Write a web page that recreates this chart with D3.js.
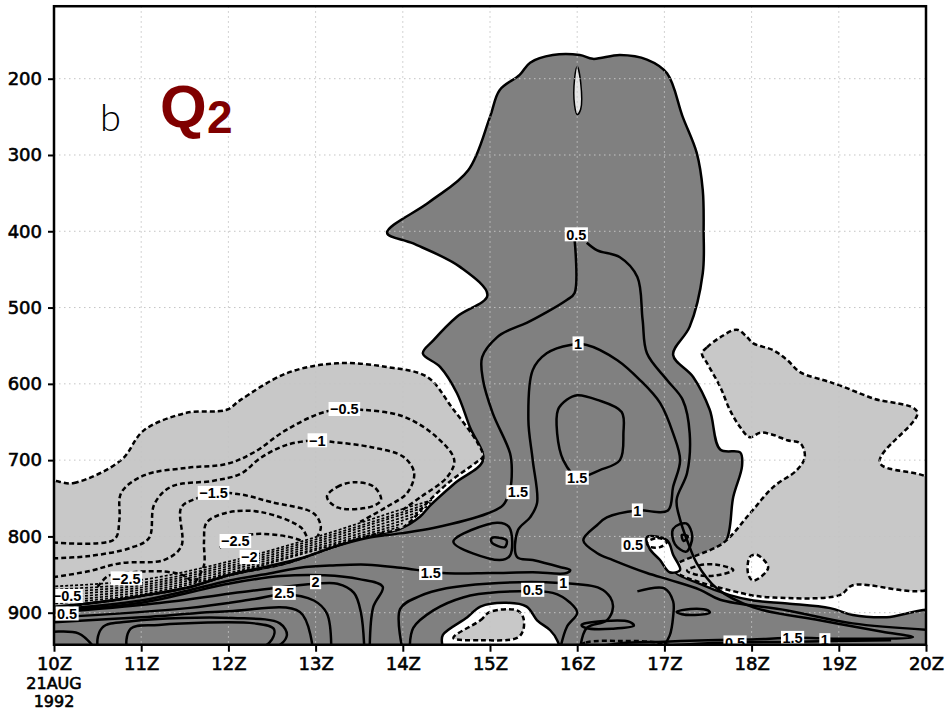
<!DOCTYPE html>
<html>
<head>
<meta charset="utf-8">
<script src="https://cdnjs.cloudflare.com/ajax/libs/d3/7.8.5/d3.min.js"></script>
<style>
body { margin: 0; background: #fff; }
</style>
</head>
<body>
<svg width="950" height="712"></svg>
<script>
// ################################### Data #######################################
// all points are [hour (Z), pressure (hPa)]

var hours = [10, 11, 12, 13, 14, 15, 16, 17, 18, 19, 20];
var hourLabels = ["10Z", "11Z", "12Z", "13Z", "14Z", "15Z", "16Z", "17Z", "18Z", "19Z", "20Z"];
var dateLines = ["21AUG", "1992"];
var pressureTicks = [200, 300, 400, 500, 600, 700, 800, 900];
var pTop = 105, pBottom = 942;

// shaded areas
var darkArea = [[9.9,960],[9.9,893],[10.38,888],[11.0,878],[11.53,867],[12.0,851],[12.67,835],[13.2,814],[13.59,800],
    [13.97,790],[14.2,774],[14.31,760],[14.6,730],[14.92,700],[14.77,657],[14.62,612],[14.43,578],[14.23,560],
    [14.35,543],[14.62,512],[14.97,484],[14.66,447],[14.12,416],[13.82,402],[14.3,362],[14.75,320],[15.0,250],
    [15.11,215],[15.34,195],[15.46,179],[15.72,169],[16.03,169],[16.18,174],[16.49,169],[16.80,175],[17.03,193],
    [17.21,250],[17.37,297],[17.44,346],[17.45,400],[17.44,455],[17.29,525],[17.10,562],[17.33,591],[17.52,634],
    [17.64,686],[17.87,690],[17.89,708],[17.79,748],[17.70,808],[17.45,828],[17.12,845],[17.4,862],[17.75,877],
    [18.02,884],[18.41,888],[18.90,894],[19.16,903],[19.55,906],[20.1,899],[20.1,960]];
var lightLeft = [[9.9,730],[10.23,730],[10.77,700],[11.03,661],[11.52,638],[11.98,634],[12.14,621],[12.67,586],
    [13.25,573],[13.82,578],[14.28,591],[14.57,632],[14.86,678],[14.92,695],[14.84,703],[14.52,730],[14.27,757],
    [14.1,779],[13.97,790],[13.59,800],[13.2,814],[12.67,835],[12.0,851],[11.53,867],[11.0,878],[10.38,888],[9.9,892]];
var lightRight = [[17.43,560],[17.49,552],[17.64,539],[17.83,529],[17.95,539],[18.02,547],[18.25,556],[18.41,569],
    [18.56,585],[18.82,595],[19.01,602],[19.39,619],[19.90,637],[19.47,703],[20.1,730],[20.1,865],[19.16,864],
    [19.01,877],[18.25,880],[17.87,874],[17.10,842],[17.67,809],[17.98,770],[18.25,735],[18.52,713],[18.61,696],
    [18.56,678],[18.41,674],[18.25,667],[18.10,664],[17.98,670],[17.87,657],[17.75,634],[17.64,604],[17.49,573]];
var whiteTriangle = [[17.98,827],[18.06,824],[18.19,841],[18.02,858],[17.96,849]];
var whitePocket = [[16.8,801],[17.03,805],[17.1,824],[17.18,844],[17.06,847],[16.95,831],[16.83,816]];
var whitePatch = [[14.46,929],[14.74,906],[14.89,892],[15.19,887],[15.42,892],[15.54,910],[15.69,923],[15.77,936],
    [15.8,955],[14.5,955],[14.45,940]];
var lightPatch = [[14.58,933],[14.89,910],[15.0,899],[15.31,897],[15.38,906],[15.38,923],[15.31,933],[14.89,936]];
var topSliver = [[16.0,184],[16.04,205],[16.04,240],[16.0,247],[15.97,235],[15.97,200]];

// solid (positive) contours, open
var pos05a = [[15.97,411],[15.97,481],[15.88,490],[15.42,520],[15.23,529],[15.08,539],[14.91,565],[14.92,595],
    [15.03,638],[15.23,691],[15.25,713],[15.23,739],[15.15,759],[14.97,770],[14.35,789],[13.97,796],[13.59,802],
    [13.2,814],[12.82,829],[12.0,851],[11.53,867],[11.0,878],[10.38,888],[9.9,893]];
var pos05b = [[16.11,415],[16.23,425],[16.49,434],[16.69,460],[16.75,516],[16.80,560],[17.03,595],[17.21,621],
    [17.29,665],[17.26,717],[17.14,752],[17.18,778],[17.29,814],[17.37,835],[17.6,868],[18.02,893],[18.78,910],
    [19.5,925],[19.85,932],[19.0,934],[18.5,933],[18.0,935],[17.5,936],[17.0,938],[16.5,940],[16.2,945]];
var pos1 = [[9.9,897],[10.5,891],[11.0,884],[11.5,872],[12.0,858],[12.5,848],[12.82,841],[13.2,838],[13.59,837],
    [13.97,841],[14.46,848],[15.0,848],[15.49,847],[15.88,848],[15.92,844],[15.80,840],[15.49,831],[15.31,827],
    [15.32,792],[15.46,775],[15.54,756],[15.49,700],[15.44,647],[15.49,582],[15.65,560],[15.92,549],[16.11,549],
    [16.46,569],[16.72,595],[16.95,625],[17.10,665],[17.18,700],[17.10,735],[17.04,766],[16.69,766],[16.34,775],
    [16.23,785],[16.07,805],[16.23,822],[16.41,831],[16.80,848],[17.06,857],[17.41,870],[17.64,883],[18.41,897],
    [19.16,914],[20.1,923]];
var pos15 = [[9.9,898],[11.0,887],[12.0,862],[12.6,852],[13.1,851],[13.5,856],[13.77,866],[13.66,893],[13.62,950]];
var pos2 = [[9.9,901],[11.15,888],[12.29,871],[13.0,862],[13.25,862],[13.44,874],[13.52,900],[13.56,950]];
var pos25 = [[9.9,907],[11.53,894],[12.3,882],[12.64,876],[12.98,884],[13.13,901],[13.18,950]];
var pos3 = [[9.9,913],[11.0,906],[12.0,898],[12.82,899],[12.97,950]];
var posEdge = [[9.9,926],[10.28,927],[10.49,950]];
var lower1 = [[14.0,950],[13.97,895],[14.2,878],[14.5,868],[15.1,861],[15.8,861],[16.26,868],[16.38,880],
    [16.41,893],[16.34,910],[16.11,920],[16.03,950]];
var lower05 = [[14.08,950],[14.12,920],[14.35,897],[14.69,880],[15.1,873],[15.72,874],[15.92,887],[16.0,900],
    [15.88,919],[15.8,950]];
var right05 = [[16.69,872],[17.0,868],[17.1,885],[17.1,905],[17.06,930],[16.95,950]];
var bottom1 = [[19.6,936],[18.5,938],[17.5,940],[16.8,945]];

// solid closed loops
var loopOuter = [[10.53,950],[10.55,920],[10.91,911],[12.05,907],[12.59,914],[12.67,930],[12.47,950]];
var loopInner = [[10.86,950],[10.88,921],[11.2,916],[12.3,914],[12.52,921],[12.5,935],[12.3,950]];
var loop15 = [[16.0,615],[16.23,621],[16.51,637],[16.53,665],[16.49,700],[16.26,713],[16.0,722],[15.84,700],
    [15.77,665],[15.78,634],[15.88,621]];
var loopTri = [[14.58,807],[15.08,782],[15.22,788],[15.23,825],[15.11,831]];
var loopTriIn = [[15.02,802],[15.19,805],[15.17,814],[15.02,808]];
var loopE1 = [[16.05,916],[16.3,911],[16.6,912],[16.65,917],[16.4,921],[16.1,920]];
var loopE2 = [[17.14,899],[17.3,895],[17.5,897],[17.52,900],[17.35,903],[17.2,902]];
var loopR = [[17.1,790],[17.25,783],[17.32,800],[17.25,820],[17.12,810]];
var loopRIn = [[17.2,798],[17.27,800],[17.22,806]];

// dashed (negative) contours
var neg05 = [[9.9,807],[10.69,804],[10.75,778],[10.77,743],[11.03,720],[11.53,710],[11.98,705],[12.29,690],
    [12.67,660],[13.13,636],[13.52,634],[14.01,643],[14.39,670],[14.59,700],[14.51,722],[14.21,748],[14.0,765]];
var neg1 = [[9.9,829],[10.38,826],[10.88,815],[11.09,802],[11.15,758],[11.34,735],[11.83,727],[12.14,718],
    [12.37,697],[12.67,680],[13.02,674],[13.18,676],[13.64,683],[14.01,696],[14.13,717],[14.05,743],[13.82,761],
    [13.51,781]];
var neg15 = [[9.9,855],[10.38,846],[10.77,835],[11.26,831],[11.46,813],[11.46,762],[11.64,750],[11.83,743],
    [12.14,745],[12.49,755],[12.98,770],[13.06,788],[13.02,800]];
var neg2 = [[11.62,860],[11.72,838],[11.72,807],[11.75,782],[11.98,769],[12.37,768],[12.83,788],[12.9,801]];
var neg25a = [[10.5,866],[10.62,852],[10.8,848],[11.26,846],[11.5,852],[11.58,860]];
var neg25b = [[11.9,815],[12.0,806],[12.29,797],[12.67,800],[12.85,806]];
var negLoop = [[13.13,748],[13.25,735],[13.44,729],[13.67,735],[13.75,752],[13.64,761],[13.25,762]];
var negEllipse = [[17.26,845],[17.4,838],[17.6,837],[17.79,844],[17.6,851],[17.4,851]];
var negPocket = [[16.8,808],[16.92,802],[17.03,807],[16.95,814],[16.82,813]];
var negBottom = [[15.95,948],[16.1,939],[16.5,937],[16.9,939],[17.2,948]];

// crowded dashed contours along the front
var dense1 = [[9.9,866],[11.0,857],[12.0,833],[13.0,801],[14.0,764],[14.35,752]];
var dense2 = [[9.9,870],[11.0,861],[12.0,836],[13.0,804],[14.0,768],[14.32,756]];
var dense3 = [[9.9,874],[11.0,864],[12.0,839],[13.0,807],[14.0,771],[14.28,761]];
var dense4 = [[9.9,878],[11.0,867],[12.0,842],[13.0,810],[14.0,775],[14.24,766]];
var dense5 = [[9.9,882],[11.0,870],[12.0,845],[13.0,813],[14.0,779],[14.2,771]];
var dense6 = [[9.9,886],[11.0,873],[12.0,848],[13.0,816],[14.0,783]];
var dense7 = [[9.9,889],[11.0,876],[12.0,850],[13.0,818],[13.95,788]];

// contour labels [text, hour, pressure]
var contourLabels = [["0.5",15.99,404],["1",16.01,547],["1.5",16.0,723],["1.5",15.32,742],["1",16.69,766],
    ["0.5",16.64,811],["\u22120.5",13.33,633],["\u22121",13.02,674],["\u22121.5",11.83,743],["\u22122.5",10.83,855],
    ["\u22122.5",12.08,806],["\u22122",12.24,827],["\u22120.5",10.15,878],["0.5",10.15,901],["2",13.0,860],
    ["2.5",12.64,874],["1.5",14.32,848],["0.5",15.49,870],["1",15.84,861],["0.5",17.81,939],["1.5",18.47,933],
    ["1",18.84,936]];

// ################################### Layout #######################################
var svg = d3.select('svg');
var x = d3.scaleLinear().domain([10, 20]).range([54, 926]);
var y = d3.scaleLinear().domain([200, 900]).range([78.7, 612.7]);
var lineW = 2.5;
var dashes = '5,3';

var openLine = d3.line()
    .x(function(d) { return x(d[0]); })
    .y(function(d) { return y(d[1]); })
    .curve(d3.curveCatmullRom.alpha(0.5));
var closedLine = d3.line()
    .x(function(d) { return x(d[0]); })
    .y(function(d) { return y(d[1]); })
    .curve(d3.curveCatmullRomClosed.alpha(0.5));

svg.append('defs').append('clipPath').attr('id', 'plotClip')
    .append('rect')
    .attr('x', x(10)).attr('y', y(pTop))
    .attr('width', x(20) - x(10)).attr('height', y(pBottom) - y(pTop));

var plotG = svg.append('g').attr('clip-path', 'url(#plotClip)');

// ################################### Shading #######################################
function area(pts, fill, dashed) {
    plotG.append('path')
        .attr('d', closedLine(pts))
        .attr('fill', fill)
        .attr('stroke', '#000')
        .attr('stroke-width', lineW)
        .attr('stroke-dasharray', dashed ? dashes : null);
}
area(darkArea, '#808080', false);
area(lightLeft, '#c8c8c8', true);
area(lightRight, '#c8c8c8', true);
area(whiteTriangle, '#fff', true);
area(whitePocket, '#fff', false);
area(whitePatch, '#fff', false);
area(lightPatch, '#c8c8c8', true);
plotG.append('path').attr('d', closedLine(topSliver))
    .attr('fill', '#e4e4e4').attr('stroke', '#000').attr('stroke-width', 1.5);

// ################################### Grid #######################################
plotG.selectAll('.vgrid').data(hours.slice(1, -1)).enter().append('line')
    .attr('x1', function(d) { return x(d); }).attr('x2', function(d) { return x(d); })
    .attr('y1', y(pTop)).attr('y2', y(pBottom))
    .attr('stroke', '#c4c4c4').attr('stroke-width', 1).attr('stroke-dasharray', '1.5,3.5');
plotG.selectAll('.hgrid').data(pressureTicks).enter().append('line')
    .attr('x1', x(10)).attr('x2', x(20))
    .attr('y1', function(d) { return y(d); }).attr('y2', function(d) { return y(d); })
    .attr('stroke', '#c4c4c4').attr('stroke-width', 1).attr('stroke-dasharray', '1.5,3.5');

// ################################### Contours #######################################
[pos05a, pos05b, pos1, pos15, pos2, pos25, pos3, posEdge, lower1, lower05, right05, bottom1].forEach(function(pts) {
    plotG.append('path').attr('d', openLine(pts))
        .attr('fill', 'none').attr('stroke', '#000').attr('stroke-width', lineW);
});
[loopOuter, loopInner, loop15, loopTri, loopTriIn, loopE1, loopE2, loopR, loopRIn].forEach(function(pts) {
    plotG.append('path').attr('d', closedLine(pts))
        .attr('fill', 'none').attr('stroke', '#000').attr('stroke-width', lineW);
});
[neg05, neg1, neg15, neg2, neg25a, neg25b].forEach(function(pts) {
    plotG.append('path').attr('d', openLine(pts))
        .attr('fill', 'none').attr('stroke', '#000').attr('stroke-width', lineW).attr('stroke-dasharray', dashes);
});
[negLoop, negEllipse, negPocket, negBottom].forEach(function(pts) {
    plotG.append('path').attr('d', closedLine(pts))
        .attr('fill', 'none').attr('stroke', '#000').attr('stroke-width', lineW).attr('stroke-dasharray', dashes);
});
[dense1, dense2, dense3, dense4, dense5, dense6, dense7].forEach(function(pts) {
    plotG.append('path').attr('d', openLine(pts))
        .attr('fill', 'none').attr('stroke', '#000').attr('stroke-width', 1.7).attr('stroke-dasharray', '3,2');
});

// contour labels with white boxes
var labelG = plotG.selectAll('.clabel').data(contourLabels).enter().append('g')
    .attr('transform', function(d) { return 'translate(' + [x(d[1]), y(d[2])] + ')'; });
labelG.append('rect').attr('fill', '#fff');
labelG.append('text')
    .attr('text-anchor', 'middle').attr('dy', '0.36em')
    .style('font-family', '"Liberation Sans", Arial, sans-serif')
    .style('font-weight', 'bold').style('font-size', '14.5px')
    .text(function(d) { return d[0]; });
labelG.each(function() {
    var g = d3.select(this);
    var bb = g.select('text').node().getBBox();
    g.select('rect').attr('x', bb.x - 1.5).attr('y', -7).attr('width', bb.width + 3).attr('height', 14);
});

// ################################### Axes #######################################
var axisFont = '"DejaVu Sans", sans-serif';

var yAxis = svg.append('g').attr('transform', 'translate(' + x(10) + ',0)')
    .call(d3.axisLeft(y).tickValues(pressureTicks).tickSize(6).tickPadding(6));
yAxis.select('.domain').remove();
yAxis.selectAll('line').attr('stroke-width', 2);
yAxis.selectAll('text').style('font-family', axisFont).style('font-size', '18px')
    .attr('fill', '#000').attr('stroke', '#000').attr('stroke-width', 0.6);

var xAxis = svg.append('g').attr('transform', 'translate(0,' + y(pBottom) + ')')
    .call(d3.axisBottom(x).tickValues(hours).tickSize(7).tickPadding(5)
        .tickFormat(function(d, i) { return hourLabels[i]; }));
xAxis.select('.domain').remove();
xAxis.selectAll('line').attr('stroke-width', 2);
xAxis.selectAll('text').style('font-family', axisFont).style('font-size', '18px')
    .attr('fill', '#000').attr('stroke', '#000').attr('stroke-width', 0.6);

// date lines under the first tick
var firstX = x(hours[0]);
dateLines.forEach(function(s, i) {
    svg.append('text').attr('x', firstX).attr('y', 688.5 + i * 18.5)
        .attr('text-anchor', 'middle')
        .style('font-family', axisFont).style('font-size', '16px')
        .attr('fill', '#000').attr('stroke', '#000').attr('stroke-width', 0.6)
        .text(s);
});

// frame
svg.append('rect')
    .attr('x', x(10)).attr('y', y(pTop))
    .attr('width', x(20) - x(10)).attr('height', y(pBottom) - y(pTop))
    .attr('fill', 'none').attr('stroke', '#000').attr('stroke-width', 2.5);

// ################################### Titles #######################################
svg.append('text').attr('x', 100).attr('y', 131).text('b')
    .style('font-family', 'Lato, "DejaVu Sans", sans-serif').style('font-weight', 300).style('font-size', '38px');
var qTitle = svg.append('text').attr('x', 160).attr('y', 127)
    .style('font-family', '"Liberation Sans", Arial, sans-serif').style('font-weight', 'bold').attr('fill', '#800000');
qTitle.append('tspan').style('font-size', '60px').text('Q');
qTitle.append('tspan').attr('x', 207).attr('y', 133).style('font-size', '46px').text('2');
</script>
</body>
</html>
